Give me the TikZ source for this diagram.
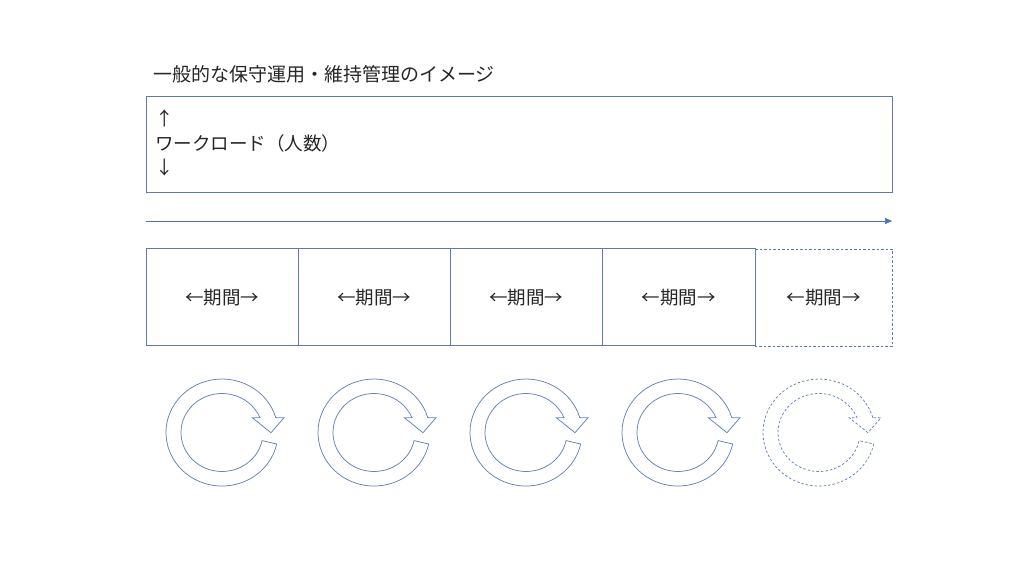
\documentclass[tikz,border=0pt]{standalone}
\usepackage{fontspec}
\setmainfont{Noto Sans CJK JP}
\usetikzlibrary{arrows.meta}
\definecolor{boxblue}{HTML}{5E78B4}
\definecolor{arrblue}{HTML}{4472C4}
\definecolor{cycblue}{HTML}{6A80B8}
\definecolor{txt}{HTML}{262626}
\tikzset{
  lbl/.style={text=txt, font=\fontsize{18.5}{22}\selectfont, inner sep=0pt},
  ttl/.style={text=txt, font=\fontsize{19}{23}\selectfont, inner sep=0pt, anchor=west},
  frame/.style={draw=boxblue, line width=0.75pt},
  dashframe/.style={draw=boxblue, line width=0.75pt, dash pattern=on 2.5pt off 2pt},
  cycline/.style={draw=cycblue, line width=0.75pt},
  cyc/.pic={
    \draw[pic actions] (53.8pt,14.8pt)
      arc[start angle=16.1, end angle=347.6, x radius=56pt, y radius=53.5pt]
      -- (40.1pt,-8.1pt)
      arc[start angle=-12, end angle=-337.7, x radius=41pt, y radius=39pt]
      -- (30.3pt,14.8pt) -- (49pt,-0.2pt) -- (62pt,14.8pt) -- cycle;
  }
}
\begin{document}
\begin{tikzpicture}[x=1pt,y=1pt]
\useasboundingbox[fill=white] (0,0) rectangle (1024,576);
% title
\node[ttl] (title) at (153,502) {一般的な保守運用・維持管理のイメージ};
% workload box
\node[frame, minimum width=746pt, minimum height=96pt, inner sep=0pt, anchor=south west] (wl) at (146,383) {};
\node[lbl, anchor=west] (up) at (155,458) {↑};
\node[lbl, anchor=west] (wlt) at (155,433) {ワークロード（人数）};
\node[lbl, anchor=west] (dn) at (155,408) {↓};
% time arrow
\coordinate (ta) at (146,355);
\coordinate (tb) at (892,355);
\draw[arrblue, line width=0.7pt, -{Triangle[length=7pt,width=6pt]}] (ta) -- (tb);
% period boxes
\node[frame, minimum width=152pt, minimum height=97pt, inner sep=0pt, anchor=south west] (p1) at (146,230) {};
\node[frame, minimum width=152pt, minimum height=97pt, inner sep=0pt, anchor=south west] (p2) at (298,230) {};
\node[frame, minimum width=152pt, minimum height=97pt, inner sep=0pt, anchor=south west] (p3) at (450,230) {};
\node[frame, minimum width=153pt, minimum height=97pt, inner sep=0pt, anchor=south west] (p4) at (602,230) {};
\coordinate (p5a) at (755,327);
\coordinate (p5b) at (892,327);
\coordinate (p5c) at (892,230);
\coordinate (p5d) at (755,230);
\draw[dashframe] (p5a) -- (p5b) -- (p5c) -- (p5d);
\node[lbl] (l1) at (p1.center) {←期間→};
\node[lbl] (l2) at (p2.center) {←期間→};
\node[lbl] (l3) at (p3.center) {←期間→};
\node[lbl] (l4) at (p4.center) {←期間→};
\node[lbl] (l5) at (823.5,278.5) {←期間→};
% cycle arrows
\pic[cycline] at (222,143.5) {cyc};
\pic[cycline] at (374,143.5) {cyc};
\pic[cycline] at (526,143.5) {cyc};
\pic[cycline] at (678,143.5) {cyc};
\pic[cycline, dash pattern=on 2.5pt off 2pt] at (819,143.5) {cyc};
\end{tikzpicture}
\end{document}
